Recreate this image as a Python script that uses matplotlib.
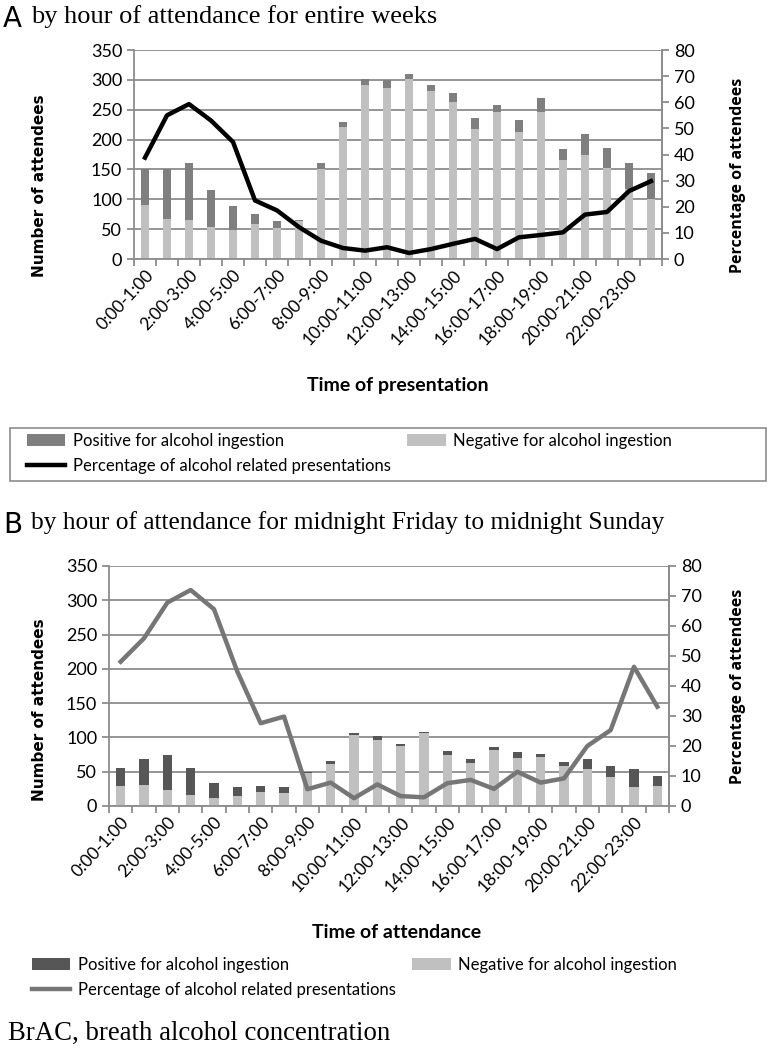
import numpy as np
import matplotlib
matplotlib.use("Agg")
import matplotlib.pyplot as plt
from matplotlib.patches import Rectangle

# ---- data ----
hours = [f"{h}:00-{h + 1}:00" for h in range(24)]

# Panel A: entire weeks
a_neg = [91, 67, 66, 54, 49, 58, 52, 64, 150, 221, 292, 287, 302, 282, 263, 218,
         246, 213, 246, 165, 174, 153, 118, 101]
a_tot = [150, 150, 160, 116, 89, 75, 64, 65, 160, 230, 302, 300, 310, 291, 278, 236,
         258, 232, 270, 185, 210, 186, 160, 144]
a_pct = [38.8, 55, 59.3, 53, 44.8, 22.4, 18.6, 12.2, 7, 4.2, 3.2, 4.5, 2.3, 3.8, 5.8, 7.7,
         3.8, 8.3, 9.2, 10.2, 17, 18, 26, 29.8]

# Panel B: midnight Friday to midnight Sunday
b_neg = [29, 30, 23, 16, 12, 15, 21, 19, 48, 61, 103, 96, 87, 106, 74, 62,
         81, 70, 71, 58, 54, 43, 28, 29]
b_tot = [55, 68, 74, 56, 34, 27, 29, 27, 50, 66, 106, 102, 90, 108, 80, 68,
         86, 79, 76, 64, 68, 59, 54, 44]
b_pct = [48.1, 55.9, 67.8, 72, 65.6, 44.8, 27.6, 29.8, 5.6, 7.8, 2.6, 7.2, 3.3, 2.9, 7.6, 8.7,
         5.7, 11.4, 7.8, 9.2, 20, 25.3, 46.4, 33.1]

a_pos = [t - n for t, n in zip(a_tot, a_neg)]
b_pos = [t - n for t, n in zip(b_tot, b_neg)]

W, H = 769, 1049
fig = plt.figure(figsize=(W / 100, H / 100), dpi=100)

def box(x0, y0, x1, y1):
    return [x0 / W, 1 - y1 / H, (x1 - x0) / W, (y1 - y0) / H]

def fx(x):
    return x / W

def fy(y):
    return 1 - y / H

GRID = "#8c8c8c"
TICKFONT = "Lato"

def panel(rect, neg, pos, pct, pos_col, line_col):
    ax = fig.add_axes(rect)
    x = np.arange(len(neg))
    b1 = ax.bar(x, neg, width=0.4, color="#c0c0c0", zorder=2)
    b2 = ax.bar(x, pos, bottom=neg, width=0.4, color=pos_col, zorder=2)
    ax.set_xlim(-0.5, 23.5)
    ax.set_ylim(0, 350)
    ax.set_yticks(range(0, 351, 50))
    ax.yaxis.grid(True, color=GRID, lw=1.3)
    ax.set_axisbelow(True)
    ax.spines["top"].set_visible(False)
    for s in ("left", "right", "bottom"):
        ax.spines[s].set_color(GRID)
        ax.spines[s].set_linewidth(1.3)
    ax.set_xticks(np.arange(-0.5, 24, 1), minor=True)
    ax.set_xticks(np.arange(0, 24, 2))
    ax.set_xticklabels(hours[::2], rotation=47, ha="right", va="top",
                       rotation_mode="anchor", fontsize=12.5, family=TICKFONT)
    ax.tick_params(axis="x", which="major", length=0, pad=6)
    ax.tick_params(axis="x", which="minor", length=5, color=GRID, width=1.3)
    ax.tick_params(axis="y", length=5, color=GRID, width=1.3, labelsize=13)
    for t in ax.get_yticklabels():
        t.set_family(TICKFONT)

    ax2 = ax.twinx()
    ln, = ax2.plot(x, pct, color=line_col, lw=3.2, zorder=3)
    ax2.set_ylim(0, 80)
    ax2.set_yticks(range(0, 81, 10))
    for s in ("top", "left", "bottom"):
        ax2.spines[s].set_visible(False)
    ax2.spines["right"].set_color(GRID)
    ax2.spines["right"].set_linewidth(1.3)
    ax2.tick_params(axis="y", length=5, color=GRID, width=1.3, labelsize=13)
    for t in ax2.get_yticklabels():
        t.set_family(TICKFONT)
    return ax, b2, b1, ln

axA, pA, nA, lA = panel(box(134, 50, 662, 259), a_neg, a_pos, a_pct, "#7f7f7f", "black")
axB, pB, nB, lB = panel(box(109, 566, 669, 806), b_neg, b_pos, b_pct, "#565656", "#767676")

# titles
fig.text(fx(3), fy(19), "A", fontsize=20, family="DejaVu Sans", va="center")
fig.text(fx(31), fy(17), "by hour of attendance for entire weeks", fontsize=19,
         family="Liberation Serif", va="center")
fig.text(fx(3), fy(525), "B", fontsize=20, family="DejaVu Sans", va="center")
fig.text(fx(31), fy(523), "by hour of attendance for midnight Friday to midnight Sunday",
         fontsize=18.3, family="Liberation Serif", va="center")
fig.text(fx(8), fy(1033), "BrAC, breath alcohol concentration", fontsize=19.3,
         family="Liberation Serif", va="center")

# axis titles
for yl, yr in ((186, 175), (710, 686)):
    fig.text(fx(40), fy(yl), "Number of attendees", rotation=90, fontsize=11,
             weight="bold", ha="center", va="center")
    fig.text(fx(738), fy(yr), "Percentage of attendees", rotation=90, fontsize=11.5,
             weight="bold", family="Open Sans", ha="center", va="center")
fig.text(fx(398), fy(386), "Time of presentation", fontsize=14, weight="bold",
         family=TICKFONT, ha="center", va="center")
fig.text(fx(397), fy(932), "Time of attendance", fontsize=14, weight="bold",
         family=TICKFONT, ha="center", va="center")

# legends
labels = ["Positive for alcohol ingestion", "Percentage of alcohol related presentations",
          "Negative for alcohol ingestion"]
leg_kw = dict(ncol=2, loc="upper left", prop={"family": TICKFONT, "size": 12},
              frameon=False, handlelength=2.3, handletextpad=0.45, labelspacing=0.55,
              borderpad=0, borderaxespad=0, columnspacing=1.0)
fig.legend([pA, lA, nA], labels, bbox_to_anchor=(fx(27), fy(433)), **leg_kw)
fig.patches.append(Rectangle((fx(10), fy(481)), fx(756), fy(428) - fy(481),
                             transform=fig.transFigure, fill=False,
                             edgecolor=GRID, lw=1.2))
fig.legend([pB, lB, nB], labels, bbox_to_anchor=(fx(32), fy(957)), **leg_kw)

fig.savefig("out.png", dpi=100)
